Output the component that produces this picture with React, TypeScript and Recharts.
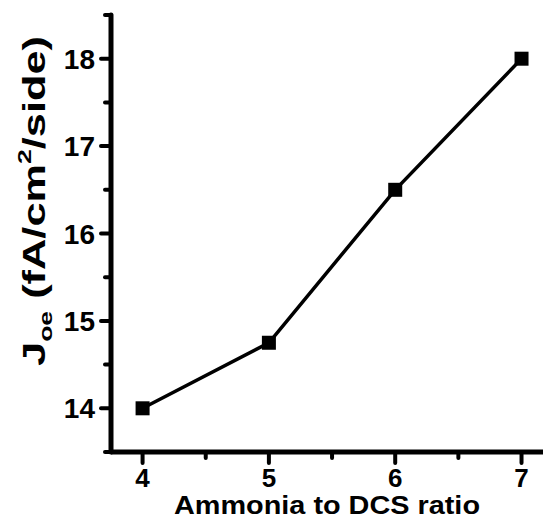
import { LineChart, Line, XAxis, YAxis } from 'recharts'

// values
const ratios = [4, 5, 6, 7]
const joeValues = [14, 14.75, 16.5, 18]
const xTicks = [4, 4.5, 5, 5.5, 6, 6.5, 7]
const yTicks = [13.5, 14, 14.5, 15, 15.5, 16, 16.5, 17, 17.5, 18, 18.5]

const data = ratios.map((r, i) => ({ ratio: r, joe: joeValues[i] }))

const FONT = '"Liberation Sans", Arial, sans-serif'

const XTick = ({ x, y, payload }: any) => {
  const major = Number.isInteger(payload.value)
  return (
    <g>
      <line x1={x} x2={x} y1={y} y2={y + (major ? 11 : 6)} stroke="#000" strokeWidth={4} strokeLinecap="round" />
      {major && (
        <text x={x} y={y + 35} textAnchor="middle" fontSize={26} fontWeight="bold" fontFamily={FONT} fill="#000">
          {payload.value}
        </text>
      )}
    </g>
  )
}

const YTick = ({ x, y, payload }: any) => {
  const major = Number.isInteger(payload.value)
  return (
    <g>
      <line x1={x} x2={x - (major ? 10 : 6)} y1={y} y2={y} stroke="#000" strokeWidth={4} strokeLinecap="round" />
      {major && (
        <text x={x - 16} y={y + 10} textAnchor="end" fontSize={28} fontWeight="bold" fontFamily={FONT} fill="#000">
          {payload.value}
        </text>
      )}
    </g>
  )
}

const SquareDot = ({ cx, cy }: any) => (
  <rect x={cx - 7} y={cy - 7} width={14} height={14} fill="#000" />
)

const YLabel = () => (
  <text
    transform="translate(45,201) rotate(-90)"
    textAnchor="middle"
    fontSize={31}
    fontWeight="bold"
    fontFamily={FONT}
    fill="#000"
    textLength={330}
    lengthAdjust="spacingAndGlyphs"
  >
    J
    <tspan fontSize={19} dy={7}>oe</tspan>
    <tspan dy={-7}> (fA/cm</tspan>
    <tspan fontSize={19} dy={-14}>2</tspan>
    <tspan dy={14}>/side)</tspan>
  </text>
)

const XLabel = ({ viewBox }: any) => (
  <text
    x={viewBox.x + viewBox.width / 2}
    y={514}
    textAnchor="middle"
    fontSize={25}
    fontWeight="bold"
    fontFamily={FONT}
    fill="#000"
    textLength={306}
    lengthAdjust="spacingAndGlyphs"
  >
    Ammonia to DCS ratio
  </text>
)

export default function App() {
  return (
    <div style={{ position: 'absolute', left: 0, top: 0, width: 543, height: 520, background: '#fff' }}>
      <LineChart width={543} height={520} data={data} margin={{ top: 15, right: 0, left: 0, bottom: 0 }}>
        <XAxis
          type="number"
          dataKey="ratio"
          domain={[3.75, 7.17]}
          allowDataOverflow
          ticks={xTicks}
          interval={0}
          tickSize={0}
          tickMargin={0}
          tickLine={false}
          axisLine={{ stroke: '#000', strokeWidth: 5 }}
          height={68}
          tick={<XTick />}
          label={<XLabel />}
        />
        <YAxis
          type="number"
          domain={[13.5, 18.5]}
          allowDataOverflow
          ticks={yTicks}
          interval={0}
          tickSize={0}
          tickMargin={0}
          tickLine={false}
          axisLine={{ stroke: '#000', strokeWidth: 5, strokeLinecap: 'round' }}
          width={111}
          tick={<YTick />}
          label={<YLabel />}
        />
        <Line
          type="linear"
          dataKey="joe"
          stroke="#000"
          strokeWidth={3.5}
          dot={<SquareDot />}
          activeDot={false}
          isAnimationActive={false}
        />
      </LineChart>
    </div>
  )
}
